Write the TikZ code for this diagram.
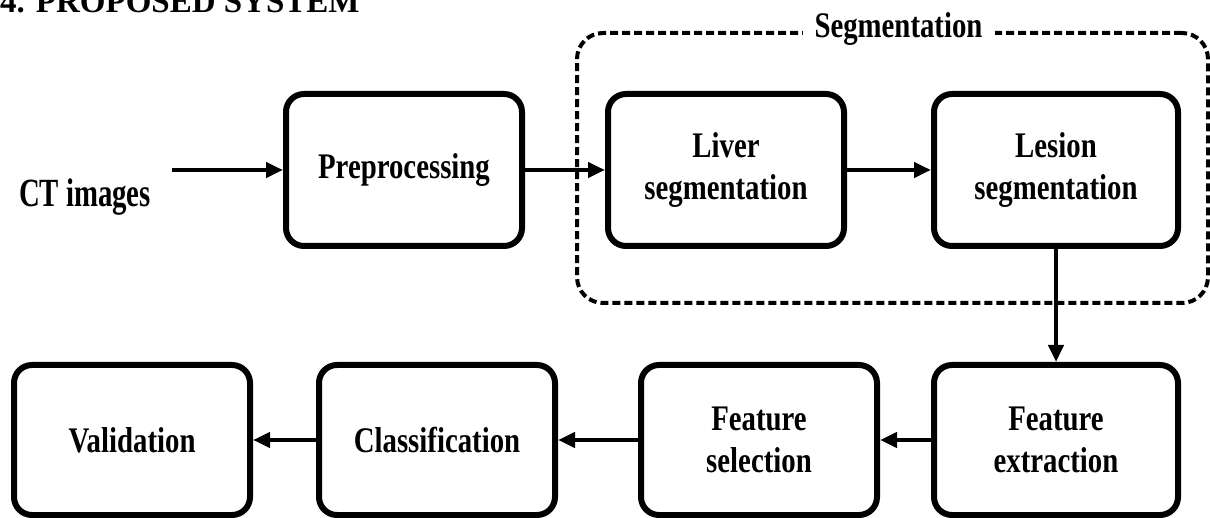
\documentclass[tikz,border=0pt]{standalone}
\usepackage{fontspec}
\setmainfont{Liberation Serif}
\newfontfamily\boxfont[FakeStretch=0.80]{Liberation Serif}
\newfontfamily\inputfont[FakeStretch=0.72]{Liberation Serif}
\usetikzlibrary{arrows.meta}

\begin{document}
\begin{tikzpicture}[x=1pt,y=-1pt,
  stage/.style={draw, line width=6pt, rounded corners=18pt,
    minimum width=236pt, minimum height=152pt, align=center, inner sep=0pt,
    font=\boxfont\bfseries\fontsize{36}{42}\selectfont},
  label/.style={inner sep=0pt, font=\boxfont\bfseries\fontsize{36}{42}\selectfont},
  flow/.style={line width=4.5pt, -{Triangle[length=17pt,width=15pt]}},
  group/.style={draw, line width=4pt, dash pattern=on 8pt off 4pt,
    rounded corners=26pt},
]
\useasboundingbox (0,0) rectangle (1210,518);
\clip (0,0) rectangle (1210,518);
\fill[white] (0,0) rectangle (1210,518);

% heading
\node[anchor=base west, inner sep=0pt, font=\bfseries\fontsize{33}{38}\selectfont]
  (title) at (0,13) {4. PROPOSED SYSTEM};

% segmentation group
\node[group, minimum width=631pt, minimum height=270pt] (segbox) at (892.5,168) {};
\node[label, fill=white, inner xsep=12pt, inner ysep=4pt] (seglabel)
  at ([xshift=6pt,yshift=2pt]segbox.north) {Segmentation};

% input
\node[inner sep=0pt, font=\inputfont\bfseries\fontsize{40}{46}\selectfont]
  (ct) at (85,197) {CT images};
\coordinate (ctout) at (172,170);

% top row
\node[stage] (pre) at (404,170) {Preprocessing};
\node[stage] (liver) at (726,170) {Liver\\segmentation};
\node[stage, minimum width=244pt] (lesion) at (1056,170) {Lesion\\segmentation};

% bottom row
\node[stage, minimum width=244pt, minimum height=150pt] (fext) at (1056,440) {Feature\\extraction};
\node[stage, minimum height=150pt] (fsel) at (759,440) {Feature\\selection};
\node[stage, minimum height=150pt] (cls) at (437,440) {Classification};
\node[stage, minimum height=150pt] (val) at (132,440) {Validation};

% connectors
\draw[flow] (ctout) -- (pre.west);
\draw[flow] (pre) -- (liver);
\draw[flow] (liver) -- (lesion);
\draw[flow] (lesion) -- (fext);
\draw[flow] (fext) -- (fsel);
\draw[flow] (fsel) -- (cls);
\draw[flow] (cls) -- (val);
\end{tikzpicture}
\end{document}
